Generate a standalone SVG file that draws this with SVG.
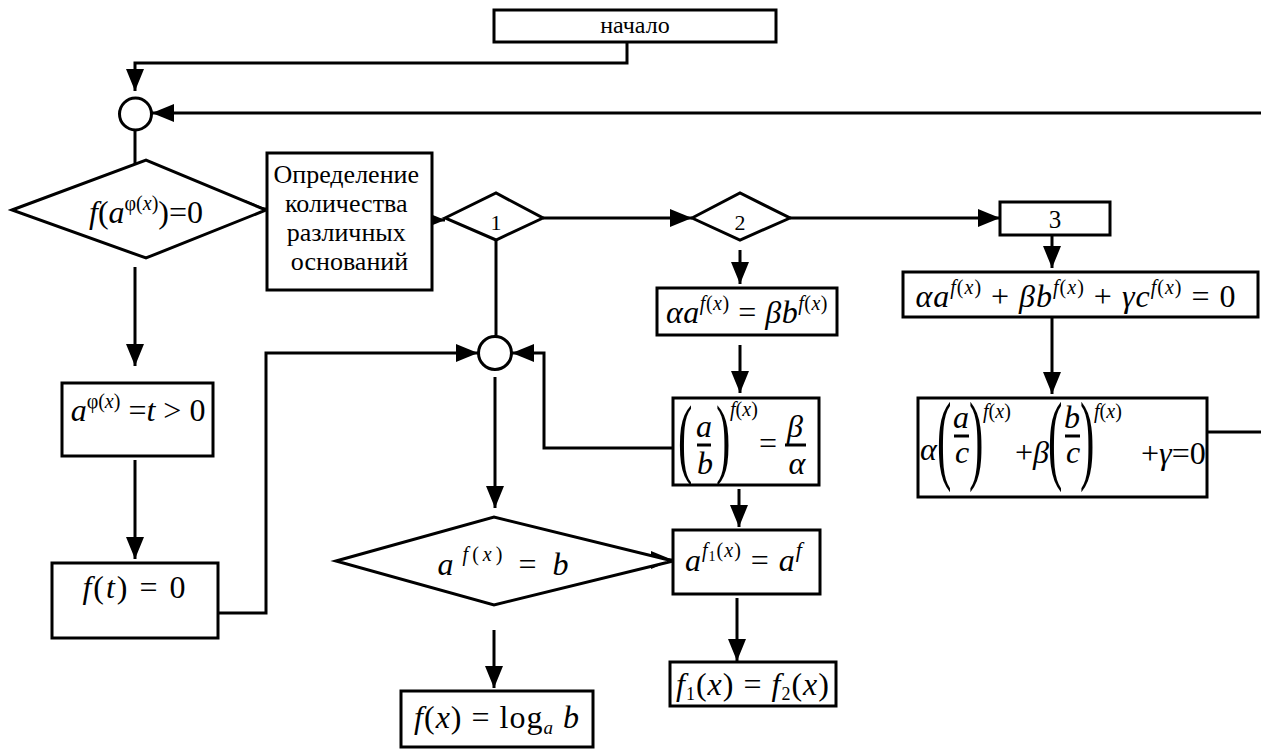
<svg xmlns="http://www.w3.org/2000/svg" width="1261" height="749" viewBox="0 0 1261 749">
<defs>
<marker id="ah" markerUnits="userSpaceOnUse" markerWidth="22" markerHeight="18" refX="22" refY="9" orient="auto">
<path d="M0,0 L22,9 L0,18 z" fill="#000"/>
</marker>
<style>
.bx{fill:#fff;stroke:#000;stroke-width:3}
.ln{fill:none;stroke:#000;stroke-width:3}
.cn{fill:none;stroke:#000;stroke-width:3;marker-end:url(#ah)}
.t{font-family:"Liberation Serif","Times New Roman",serif;fill:#000}
.m{font-family:"Liberation Serif","Times New Roman",serif;fill:#000;font-size:32px}
.i{font-style:italic}
.s{font-size:20px}
</style>
</defs>
<rect width="1261" height="749" fill="#fff"/>

<g id="connectors">
<path class="cn" d="M627,42 V63 H135 V91"/>
<path class="cn" d="M1261,113 H152"/>
<path class="ln" d="M135,130 V164"/>
<path class="cn" d="M244,209 H267"/>
<path class="cn" d="M423,220 H445"/>
<path class="cn" d="M543,218 H692"/>
<path class="cn" d="M790,218 H1000"/>
<path class="cn" d="M1052,235 V268"/>
<path class="cn" d="M1052,317 V394"/>
<path class="ln" d="M1207,432 H1261"/>
<path class="ln" d="M496,240 V337"/>
<path class="cn" d="M218,613 H266 V353 H478"/>
<path class="cn" d="M673,448 H544 V353 H512"/>
<path class="cn" d="M495,377 V508"/>
<path class="cn" d="M135,267 V366"/>
<path class="cn" d="M135,460 V559"/>
<path class="cn" d="M740,250 V284"/>
<path class="cn" d="M740,345 V393"/>
<path class="cn" d="M739,489 V527"/>
<path class="cn" d="M650,560 H673"/>
<path class="cn" d="M737,598 V661"/>
<path class="cn" d="M494,630 V688"/>
</g>

<g id="start">
<rect class="bx" x="494" y="10" width="282" height="32"/>
<text class="t" x="635" y="33" font-size="24" text-anchor="middle">начало</text>
</g>

<g id="join1">
<circle class="bx" cx="135.5" cy="114" r="16"/>
</g>

<g id="cond-main">
<polygon class="bx" points="12,210 146,160 266,210 146,258"/>
<text class="m" x="146" y="223" text-anchor="middle"><tspan class="i">f</tspan>(<tspan class="i">a</tspan><tspan class="s" dy="-13">φ(<tspan class="i">x</tspan>)</tspan><tspan dy="13">)=0</tspan></text>
</g>

<g id="count">
<rect class="bx" x="267" y="153" width="165" height="137"/>
<text class="t" font-size="26" text-anchor="middle">
<tspan x="349.5" y="183">Определение</tspan>
<tspan x="349.5" y="212">количества</tspan>
<tspan x="349.5" y="241">различных</tspan>
<tspan x="349.5" y="270">оснований</tspan>
</text>
</g>

<g id="d1">
<polygon class="bx" points="445,218 496,193 543,218 496,240"/>
<text class="t" x="496" y="230" font-size="22" text-anchor="middle">1</text>
</g>

<g id="d2">
<polygon class="bx" points="692,218 740,193 790,218 740,240"/>
<text class="t" x="740" y="230" font-size="22" text-anchor="middle">2</text>
</g>

<g id="n3">
<rect class="bx" x="1000" y="202" width="110" height="33"/>
<text class="t" x="1055" y="228" font-size="25" text-anchor="middle">3</text>
</g>

<g id="eq3">
<rect class="bx" x="903" y="272" width="355" height="45"/>
<text class="m" x="1076" y="307" text-anchor="middle" letter-spacing="1"><tspan class="i">αa</tspan><tspan class="s" dy="-13"><tspan class="i">f</tspan>(<tspan class="i">x</tspan>)</tspan><tspan dy="13"> + </tspan><tspan class="i">βb</tspan><tspan class="s" dy="-13"><tspan class="i">f</tspan>(<tspan class="i">x</tspan>)</tspan><tspan dy="13"> + </tspan><tspan class="i">γc</tspan><tspan class="s" dy="-13"><tspan class="i">f</tspan>(<tspan class="i">x</tspan>)</tspan><tspan dy="13"> = 0</tspan></text>
</g>

<g id="eq3b">
<rect class="bx" x="918" y="398" width="289" height="99"/>
<text class="m i" x="920" y="460" font-size="28">α</text>
<text class="m" font-size="28" transform="translate(937,471) scale(1.35,3.1)">(</text>
<text class="m i" x="961" y="428" text-anchor="middle" font-size="28">a</text>
<line class="ln" x1="954" y1="436" x2="969" y2="436" stroke-width="2"/>
<text class="m i" x="962" y="463" text-anchor="middle" font-size="28">c</text>
<text class="m" font-size="28" transform="translate(969,471) scale(1.35,3.1)">)</text>
<text class="m s" x="983" y="418"><tspan class="i">f</tspan>(<tspan class="i">x</tspan>)</text>
<text class="m" x="1015" y="463" font-size="28">+<tspan class="i">β</tspan></text>
<text class="m" font-size="28" transform="translate(1048,471) scale(1.35,3.1)">(</text>
<text class="m i" x="1072" y="428" text-anchor="middle" font-size="28">b</text>
<line class="ln" x1="1065" y1="436" x2="1080" y2="436" stroke-width="2"/>
<text class="m i" x="1073" y="463" text-anchor="middle" font-size="28">c</text>
<text class="m" font-size="28" transform="translate(1080,471) scale(1.35,3.1)">)</text>
<text class="m s" x="1094" y="418"><tspan class="i">f</tspan>(<tspan class="i">x</tspan>)</text>
<text class="m" x="1141" y="464" font-size="31">+<tspan class="i">γ</tspan>=0</text>
</g>

<g id="eq2">
<rect class="bx" x="657" y="288" width="180" height="47"/>
<text class="m" x="747" y="323" text-anchor="middle" font-size="30" letter-spacing="0.5"><tspan class="i">αa</tspan><tspan class="s" dy="-13"><tspan class="i">f</tspan>(<tspan class="i">x</tspan>)</tspan><tspan dy="13"> = </tspan><tspan class="i">βb</tspan><tspan class="s" dy="-13"><tspan class="i">f</tspan>(<tspan class="i">x</tspan>)</tspan></text>
</g>

<g id="eq2b">
<rect class="bx" x="673" y="398" width="146" height="87"/>
<text class="m" font-size="28" transform="translate(678,467) scale(1.35,2.8)">(</text>
<text class="m i" x="704" y="437" text-anchor="middle" font-size="28">a</text>
<line class="ln" x1="697" y1="445" x2="711" y2="445" stroke-width="2"/>
<text class="m i" x="705" y="474" text-anchor="middle" font-size="28">b</text>
<text class="m" font-size="28" transform="translate(716,467) scale(1.35,2.8)">)</text>
<text class="m s" x="730" y="416"><tspan class="i">f</tspan>(<tspan class="i">x</tspan>)</text>
<text class="m" x="768" y="454" text-anchor="middle" font-size="30">=</text>
<text class="m i" x="795" y="437" text-anchor="middle" font-size="28">β</text>
<line class="ln" x1="785" y1="445" x2="806" y2="445" stroke-width="2"/>
<text class="m i" x="797" y="474" text-anchor="middle" font-size="28">α</text>
</g>

<g id="join2">
<circle class="bx" cx="495" cy="353" r="16.5"/>
</g>

<g id="sub1">
<rect class="bx" x="62" y="383" width="151" height="73"/>
<text class="m" x="138" y="421" text-anchor="middle" font-size="31"><tspan class="i">a</tspan><tspan class="s" dy="-13">φ(<tspan class="i">x</tspan>)</tspan><tspan dy="13"> =</tspan><tspan class="i">t</tspan> &gt; 0</text>
</g>

<g id="sub2">
<rect class="bx" x="52" y="563" width="166" height="75"/>
<text class="m" x="135" y="598" text-anchor="middle" font-size="33" letter-spacing="2"><tspan class="i">f</tspan>(<tspan class="i">t</tspan>) = 0</text>
</g>

<g id="cond-b">
<polygon class="bx" points="336,561 494,517 673,561 494,605"/>
<text class="m" x="503" y="575" text-anchor="middle"><tspan class="i">a</tspan><tspan class="s" dy="-14" letter-spacing="4"> <tspan class="i">f</tspan>(<tspan class="i">x</tspan>)</tspan><tspan dy="14" letter-spacing="4"> = </tspan><tspan class="i">b</tspan></text>
</g>

<g id="eq-same">
<rect class="bx" x="673" y="530" width="147" height="64"/>
<text class="m" x="685" y="571" font-size="33" letter-spacing="1"><tspan class="i">a</tspan><tspan class="s" font-size="22" dy="-14"><tspan class="i">f</tspan><tspan font-size="14" dy="4">1</tspan><tspan dy="-4">(</tspan><tspan class="i">x</tspan>)</tspan><tspan dy="14"> = </tspan><tspan class="i">a</tspan><tspan class="i" font-size="22" dy="-14">f</tspan></text>
</g>

<g id="res-f">
<rect class="bx" x="670" y="662" width="166" height="44"/>
<text class="m" x="753" y="695" text-anchor="middle" font-size="32" letter-spacing="1"><tspan class="i">f</tspan><tspan font-size="18" dy="5">1</tspan><tspan dy="-5">(</tspan><tspan class="i">x</tspan>) = <tspan class="i">f</tspan><tspan font-size="18" dy="5">2</tspan><tspan dy="-5">(</tspan><tspan class="i">x</tspan>)</text>
</g>

<g id="res-log">
<rect class="bx" x="401" y="691" width="192" height="56"/>
<text class="m" x="497" y="728" text-anchor="middle" font-size="33" letter-spacing="1"><tspan class="i">f</tspan>(<tspan class="i">x</tspan>) = log<tspan class="i" font-size="19" dy="6">a</tspan><tspan class="i" dy="-6"> b</tspan></text>
</g>
</svg>
